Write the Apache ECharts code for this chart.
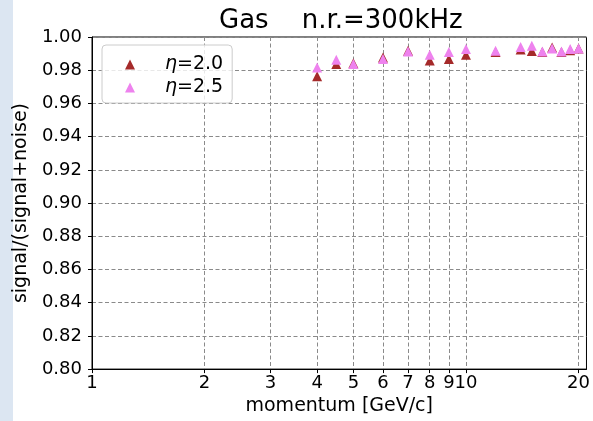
<!DOCTYPE html>
<html>
<head>
<meta charset="utf-8">
<script src="https://cdn.jsdelivr.net/npm/echarts@6/dist/echarts.min.js"></script>
<style>
html, body { margin: 0; padding: 0; background: #ffffff; }
#chart { width: 593px; height: 421px; }
</style>
</head>
<body>
<div id="chart"></div>
<script>
// Momentum points [GeV/c]
const momentum = [4, 4.5, 5, 6, 7, 8, 9, 10, 12, 14, 15, 16, 17, 18, 19, 20];
// signal/(signal+noise) for each pseudorapidity
const purityEta20 = [0.9764, 0.9837, 0.9842, 0.9877, 0.9917, 0.9859, 0.9867, 0.9893, 0.9910, 0.9925, 0.9915, 0.9910, 0.9937, 0.9910, 0.9920, 0.9930];
const purityEta25 = [0.9817, 0.9863, 0.9837, 0.9867, 0.9913, 0.9893, 0.9909, 0.9927, 0.9917, 0.9940, 0.9948, 0.9913, 0.9931, 0.9913, 0.9927, 0.9931];
const seriesNames = ['η=2.0', 'η=2.5'];
const seriesColors = ['#a52a2a', '#ee82ee'];
// Labelled ticks on the log momentum axis
const xTicks = [1, 2, 3, 4, 5, 6, 7, 8, 9, 10, 20];
const titleText = 'Gas    n.r.=300kHz';

const FONT = 'DejaVu Sans';
const TITLE_SIZE = 26;
const gridDash = { color: '#8a8a8a', width: 1, type: [4, 2.5] };

// Centre the title over the plotting area rather than the whole canvas
const plotLeft = 92, plotRight = 4, canvasWidth = 593;
const ctx = document.createElement('canvas').getContext('2d');
ctx.font = TITLE_SIZE + 'px "' + FONT + '"';
const titleWidth = ctx.measureText(titleText).width;
const plotCentre = (plotLeft + canvasWidth - plotRight) / 2;

const chart = echarts.init(document.getElementById('chart'), null, { renderer: 'canvas' });

const pairs = (xs, ys) => xs.map((x, i) => [x, ys[i]]);

chart.setOption({
  animation: false,
  backgroundColor: '#ffffff',
  graphic: [{
    type: 'rect',
    left: 0, top: 0,
    shape: { width: 13, height: 421 },
    style: { fill: '#dce6f2' },
    silent: true,
    z: -10
  }],
  title: {
    text: titleText,
    left: Math.round(plotCentre - titleWidth / 2),
    top: 8,
    padding: 0,
    textStyle: { fontFamily: FONT, fontSize: TITLE_SIZE, fontWeight: 'normal', color: '#000' }
  },
  legend: {
    orient: 'vertical',
    left: 102,
    top: 45,
    padding: [10, 9, 6, 23],
    itemGap: 4,
    itemWidth: 10,
    itemHeight: 10,
    icon: 'triangle',
    backgroundColor: 'rgba(255,255,255,0.8)',
    borderColor: '#cccccc',
    borderWidth: 1,
    borderRadius: 4,
    data: seriesNames,
    formatter: name => name.replace('η', '{i|η}'),
    textStyle: {
      fontFamily: FONT, fontSize: 19, color: '#000',
      padding: [0, 0, 0, 25],
      rich: { i: { fontFamily: FONT, fontSize: 19, fontStyle: 'italic', color: '#000' } }
    }
  },
  grid: { left: plotLeft, right: plotRight, top: 37, bottom: 46, containLabel: false,
          show: true, borderColor: '#000', borderWidth: 1, backgroundColor: 'transparent' },
  xAxis: {
    type: 'log',
    logBase: 10,
    min: 1,
    max: 21,
    name: 'momentum [GeV/c]',
    nameLocation: 'middle',
    nameGap: 26,
    nameTextStyle: { fontFamily: FONT, fontSize: 19, color: '#000' },
    axisLine: { show: true, lineStyle: { color: '#000', width: 1 } },
    axisTick: { show: true, inside: false, length: 4, customValues: xTicks, lineStyle: { color: '#000' } },
    axisLabel: { customValues: xTicks, margin: 5, fontFamily: FONT, fontSize: 18, color: '#000',
                 hideOverlap: false, formatter: v => String(v) },
    splitLine: { show: true, lineStyle: gridDash },
    minorTick: { show: false },
    minorSplitLine: { show: false }
  },
  yAxis: {
    type: 'value',
    min: 0.8,
    max: 1.0,
    interval: 0.02,
    name: 'signal/(signal+noise)',
    nameLocation: 'middle',
    nameGap: 57,
    nameTextStyle: { fontFamily: FONT, fontSize: 19, color: '#000' },
    axisLine: { show: true, lineStyle: { color: '#000', width: 1 } },
    axisTick: { show: true, length: 4, lineStyle: { color: '#000' } },
    axisLabel: { margin: 10, fontFamily: FONT, fontSize: 18, color: '#000',
                 formatter: v => v.toFixed(2) },
    splitLine: { show: true, lineStyle: gridDash }
  },
  series: [
    {
      name: seriesNames[0],
      type: 'scatter',
      symbol: 'triangle',
      symbolSize: 10,
      itemStyle: { color: seriesColors[0], opacity: 1 },
      data: pairs(momentum, purityEta20),
      z: 3
    },
    {
      name: seriesNames[1],
      type: 'scatter',
      symbol: 'triangle',
      symbolSize: 10,
      itemStyle: { color: seriesColors[1], opacity: 1 },
      data: pairs(momentum, purityEta25),
      z: 4
    }
  ]
});
</script>
</body>
</html>
